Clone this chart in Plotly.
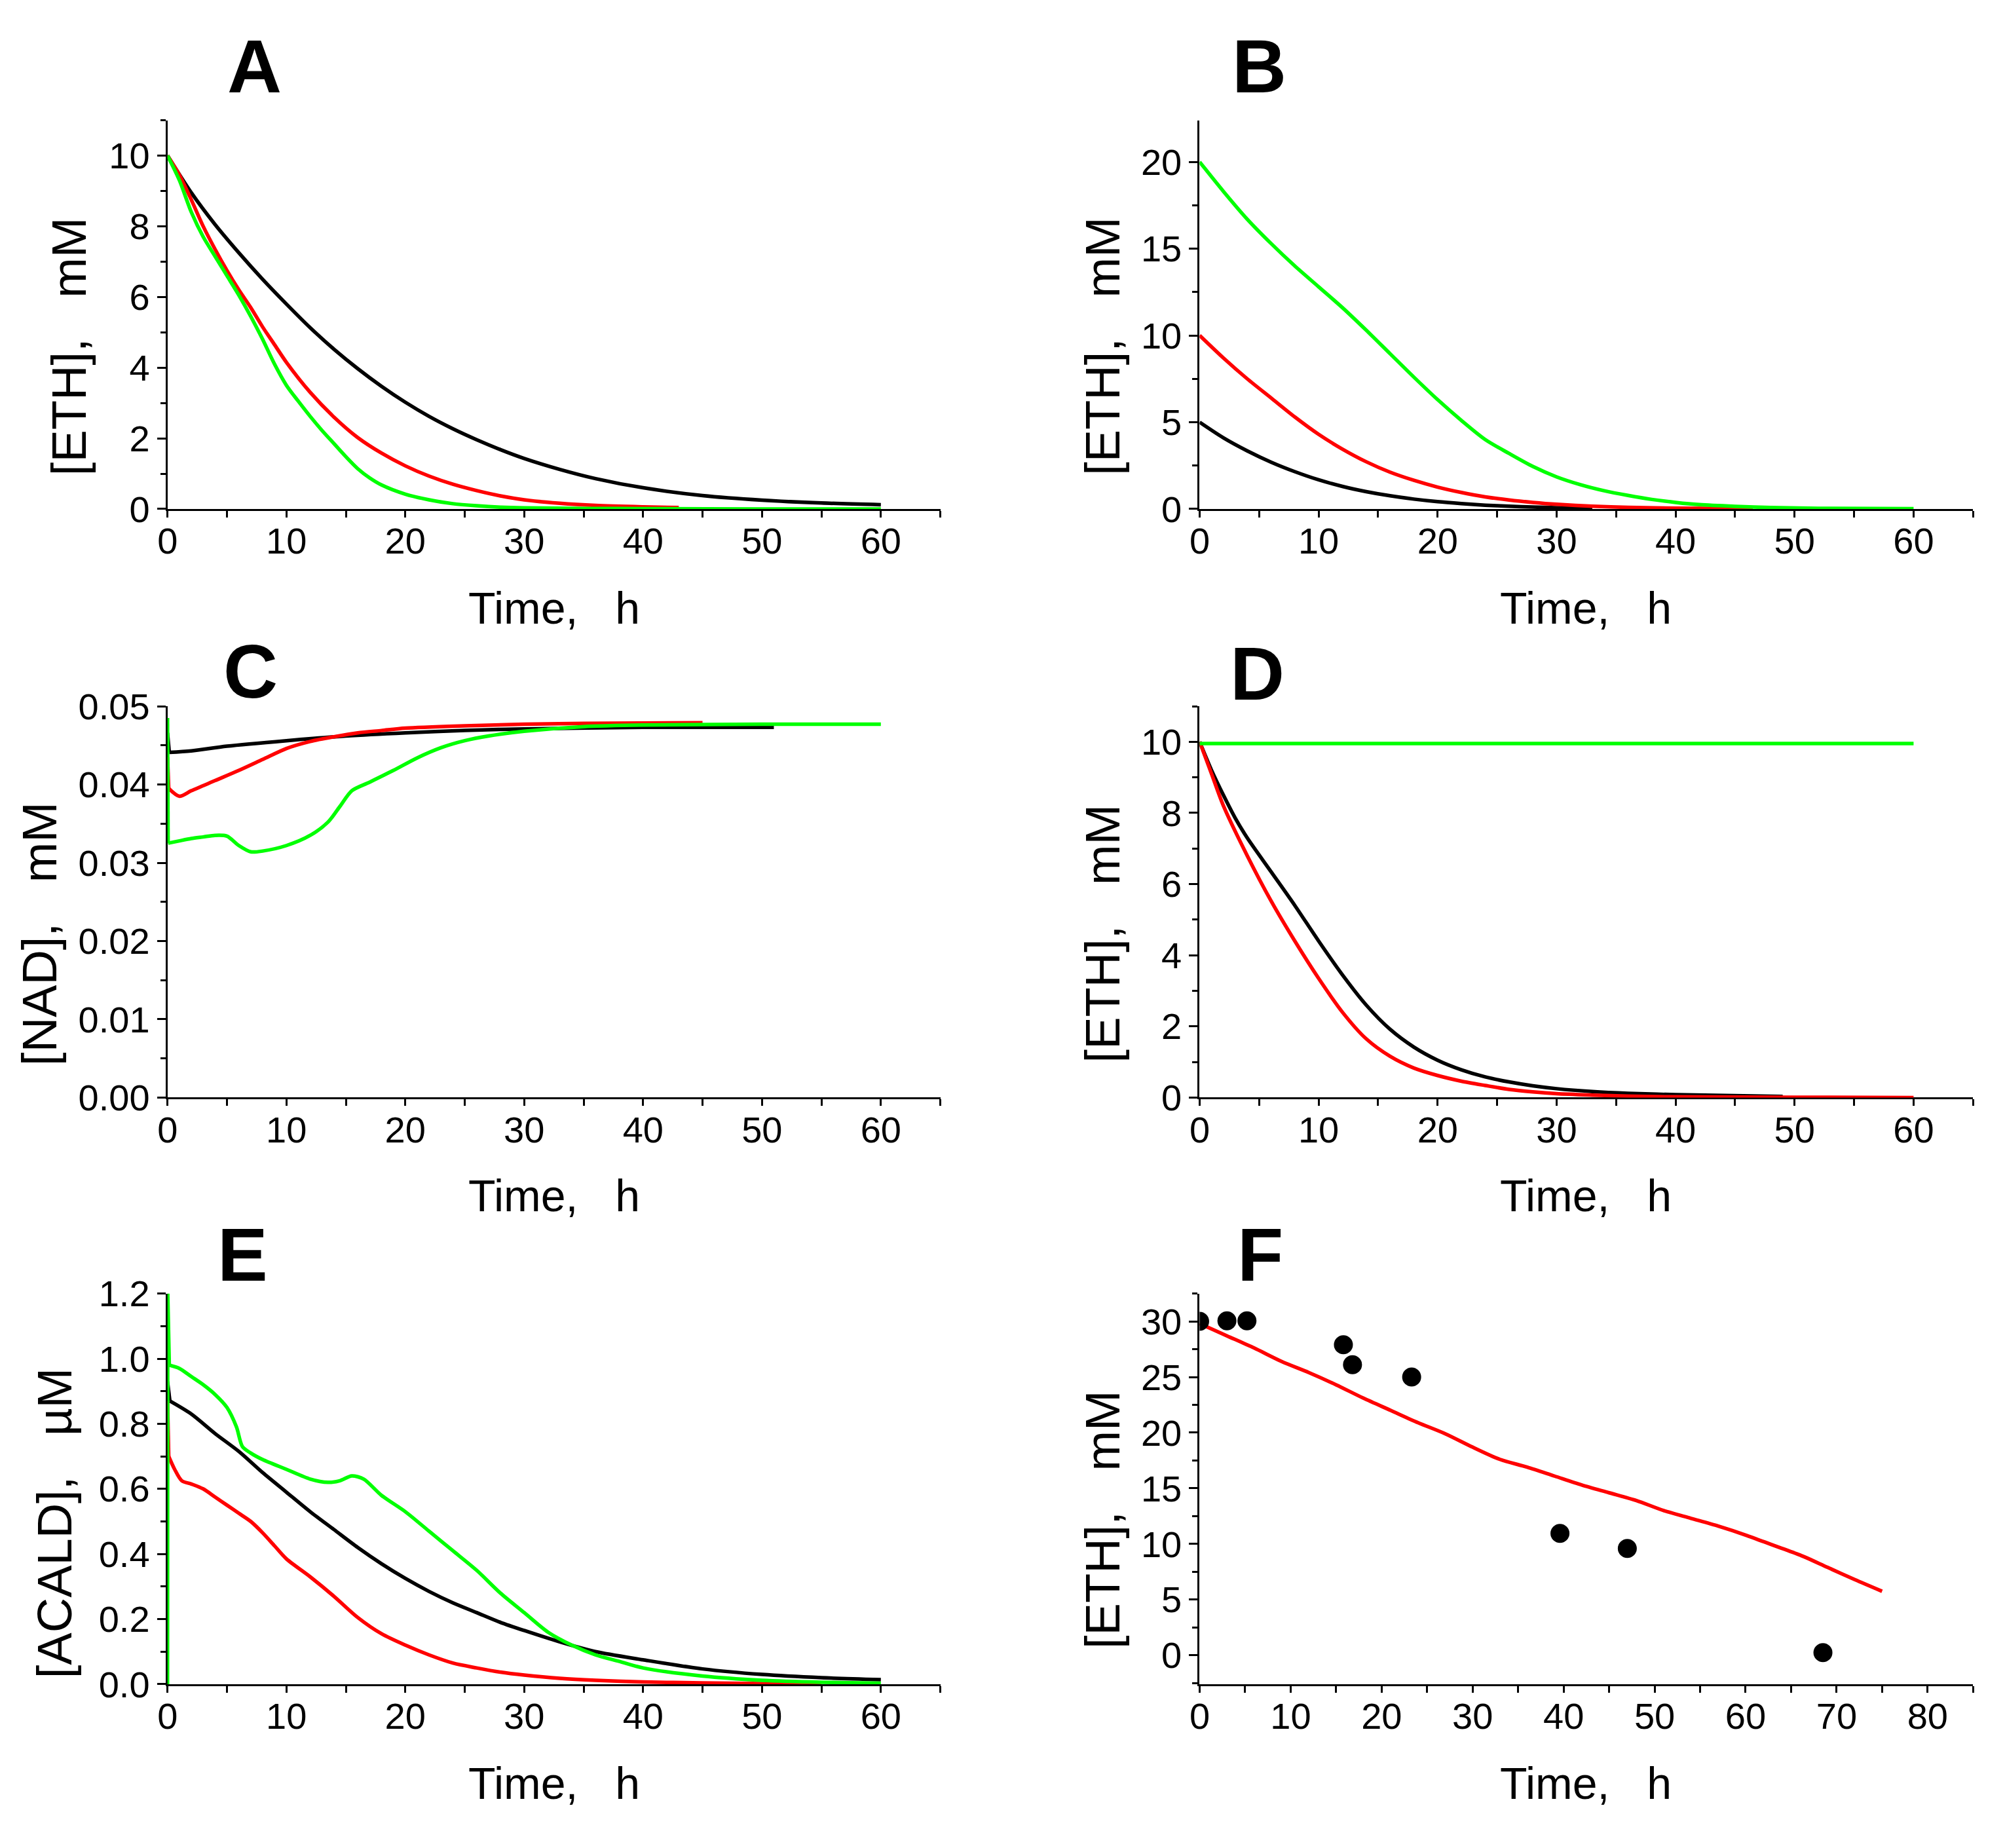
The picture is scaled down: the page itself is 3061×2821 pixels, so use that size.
import plotly.graph_objects as go

W, H = 3061, 2821

# ---------------- Panel A : [ETH], mM ----------------
tA_black = [0, 2, 4, 6, 8, 10, 12, 14, 16, 18, 20, 22, 24, 26, 28, 30, 33, 36, 40, 45, 50, 55, 60]
A_black = [10.0, 8.95, 8.05, 7.25, 6.5, 5.8, 5.13, 4.52, 3.97, 3.47, 3.02, 2.62, 2.27, 1.96, 1.68, 1.43, 1.12, 0.86, 0.6, 0.38, 0.25, 0.17, 0.12]
tA_red = [0, 1, 2, 3, 4, 5, 6, 7, 8, 9, 10, 12, 14, 16, 18, 20, 22, 24, 26, 28, 30, 33, 36, 40, 43]
A_red = [10.0, 9.45, 8.75, 8.0, 7.35, 6.75, 6.2, 5.7, 5.15, 4.65, 4.15, 3.3, 2.6, 2.02, 1.58, 1.22, 0.93, 0.7, 0.52, 0.37, 0.26, 0.16, 0.1, 0.06, 0.04]
tA_green = [0, 1, 2, 3, 4, 5, 6, 7, 8, 9, 10, 11, 12, 13, 14, 15, 16, 17, 18, 20, 22, 24, 26, 28, 30, 35, 40, 50, 60]
A_green = [10.0, 9.3, 8.4, 7.7, 7.15, 6.6, 6.05, 5.45, 4.8, 4.1, 3.5, 3.05, 2.62, 2.22, 1.85, 1.48, 1.14, 0.88, 0.68, 0.42, 0.26, 0.15, 0.09, 0.05, 0.03, 0.015, 0.01, 0.0, 0.0]

# ---------------- Panel B : [ETH], mM ----------------
tB_black = [0, 2, 4, 6, 8, 10, 12, 14, 16, 18, 20, 22, 24, 26, 28, 30, 33]
B_black = [5.0, 4.1, 3.35, 2.7, 2.15, 1.68, 1.3, 1.0, 0.76, 0.57, 0.42, 0.31, 0.22, 0.16, 0.11, 0.075, 0.045]
tB_red = [0, 2, 4, 6, 8, 10, 12, 14, 16, 18, 20, 22, 24, 26, 28, 30, 33, 36, 40, 46.5]
B_red = [10.0, 8.7, 7.5, 6.4, 5.3, 4.3, 3.45, 2.72, 2.12, 1.65, 1.26, 0.95, 0.7, 0.52, 0.38, 0.27, 0.16, 0.09, 0.05, 0.02]
tB_green = [0, 2, 4, 6, 8, 10, 12, 14, 16, 18, 20, 22, 24, 26, 28, 30, 32, 34, 36, 38, 40, 42, 45, 48, 52, 60]
B_green = [20.0, 18.3, 16.7, 15.3, 14.0, 12.8, 11.6, 10.3, 8.95, 7.6, 6.3, 5.1, 4.0, 3.2, 2.45, 1.85, 1.4, 1.05, 0.78, 0.55, 0.38, 0.25, 0.15, 0.08, 0.04, 0.02]

# ---------------- Panel C : [NAD], mM ----------------
tC_black = [0, 0.15, 2, 5, 10, 15, 20, 25, 30, 40, 51]
C_black = [0.0466, 0.0441, 0.0443, 0.0449, 0.0456, 0.0462, 0.0466, 0.0469, 0.0471, 0.0473, 0.0473]
tC_red = [0, 0.1, 1, 2, 4, 6, 8, 10, 12, 14, 16, 18, 20, 25, 30, 35, 45]
C_red = [0.0435, 0.0395, 0.0385, 0.0392, 0.0405, 0.0418, 0.0432, 0.0446, 0.0455, 0.0461, 0.0466, 0.0469, 0.0472, 0.0475, 0.0477, 0.0478, 0.0479]
tC_green = [0, 0.05, 1, 2, 3, 4, 5, 6, 7, 8, 10, 12, 13.5, 14.5, 15.5, 17, 19, 21, 23, 25, 27, 30, 35, 40, 50, 60]
C_green = [0.0485, 0.0325, 0.0328, 0.0331, 0.0333, 0.0335, 0.0334, 0.0322, 0.0314, 0.0315, 0.0322, 0.0335, 0.0352, 0.0372, 0.0392, 0.0403, 0.0418, 0.0434, 0.0447, 0.0456, 0.0462, 0.0468, 0.0474, 0.0476, 0.0477, 0.0477]

# ---------------- Panel D : [ETH], mM ----------------
tD_black = [0, 1, 2, 3, 4, 6, 8, 10, 12, 14, 16, 18, 20, 22, 24, 26, 28, 30, 33, 36, 40, 49]
D_black = [10.0, 9.2, 8.5, 7.85, 7.3, 6.35, 5.4, 4.4, 3.45, 2.6, 1.92, 1.42, 1.05, 0.78, 0.58, 0.44, 0.33, 0.25, 0.17, 0.12, 0.08, 0.03]
tD_red = [0, 1, 2, 4, 6, 8, 10, 12, 14, 16, 18, 20, 22, 24, 26, 28, 30, 33, 36, 40, 50, 60]
D_red = [10.0, 9.1, 8.2, 6.8, 5.53, 4.4, 3.35, 2.4, 1.65, 1.16, 0.83, 0.62, 0.46, 0.34, 0.23, 0.16, 0.11, 0.07, 0.04, 0.02, 0.01, 0.0]
tD_green = [0, 60]
D_green = [9.95, 9.95]

# ---------------- Panel E : [ACALD], uM ----------------
tE_black = [0, 0.2, 2, 4, 6, 8, 10, 12, 14, 16, 18, 20, 22, 24, 26, 28, 30, 33, 36, 40, 45, 50, 55, 60]
E_black = [0.93, 0.87, 0.83, 0.77, 0.715, 0.65, 0.59, 0.53, 0.475, 0.42, 0.37, 0.325, 0.285, 0.25, 0.22, 0.19, 0.165, 0.13, 0.1, 0.075, 0.047, 0.03, 0.02, 0.014]
tE_red = [0, 0.1, 0.6, 1.2, 2, 3, 4, 5, 6, 7, 8, 9, 10, 12, 14, 16, 18, 20, 22, 24, 26, 28, 30, 33, 36, 40, 45, 50, 55]
E_red = [0.87, 0.7, 0.66, 0.625, 0.615, 0.6, 0.575, 0.55, 0.525, 0.5, 0.465, 0.425, 0.385, 0.33, 0.27, 0.205, 0.155, 0.12, 0.09, 0.065, 0.05, 0.037, 0.028, 0.018, 0.012, 0.007, 0.004, 0.002, 0.001]
tE_green = [0, 0.02, 0.15, 1, 2, 3, 4, 5, 5.8, 6.3, 7, 8, 10, 12, 13.5, 14.5, 15.5, 16.5, 18, 20, 22, 24, 26, 28, 30, 32, 34, 36, 38, 40, 45, 50, 55, 60]
E_green = [0.0, 1.2, 0.98, 0.97, 0.945, 0.92, 0.89, 0.85, 0.79, 0.73, 0.71, 0.69, 0.66, 0.63, 0.62, 0.625, 0.64, 0.63, 0.58, 0.53, 0.47, 0.41, 0.35, 0.28, 0.22, 0.16, 0.12, 0.09, 0.07, 0.05, 0.025, 0.012, 0.006, 0.003]

# ---------------- Panel F : [ETH], mM (model + data) ----------------
tF_model = [0, 3, 6, 9, 12, 15, 18, 21, 24, 27, 30, 33, 36, 39, 42, 45, 48, 51, 54, 57, 60, 63, 66, 69, 72, 75]
F_model = [29.8, 28.7, 27.6, 26.4, 25.4, 24.3, 23.1, 22.0, 20.9, 19.9, 18.7, 17.6, 16.9, 16.1, 15.3, 14.6, 13.9, 13.0, 12.3, 11.6, 10.8, 9.9, 9.0, 7.9, 6.8, 5.75]
tF_data = [0.0, 3.0, 5.2, 15.8, 16.8, 23.3, 39.6, 47.0, 68.5]
F_data = [30.0, 30.05, 30.05, 27.9, 26.1, 25.0, 10.95, 9.6, 0.24]

# ---------------- text ----------------
panel_letters = ["A", "B", "C", "D", "E", "F"]
y_titles = ["[ETH],\u00a0\u00a0\u00a0mM", "[ETH],\u00a0\u00a0\u00a0mM", "[NAD],\u00a0\u00a0\u00a0mM",
            "[ETH],\u00a0\u00a0\u00a0mM", "[ACALD],\u00a0\u00a0\u00a0\u00b5M", "[ETH],\u00a0\u00a0\u00a0mM"]
x_title = "Time,\u00a0\u00a0\u00a0h"

BLACK, RED, GREEN = "#000000", "#ff0000", "#00ff00"
LW = 5.5

fig = go.Figure()

def line(ax, x, y, color, nspike=0):
    """Draw a curve; the first `nspike` segments (initial jump at t=0) are drawn straight."""
    common = dict(mode="lines", xaxis="x" + ax, yaxis="y" + ax, showlegend=False, hoverinfo="skip")
    if nspike:
        fig.add_trace(go.Scatter(x=x[:nspike + 1], y=y[:nspike + 1],
                                 line=dict(color=color, width=LW, shape="linear"), **common))
    fig.add_trace(go.Scatter(x=x[nspike:], y=y[nspike:],
                             line=dict(color=color, width=LW, shape="spline", smoothing=0.8), **common))

line("", tA_black, A_black, BLACK); line("", tA_red, A_red, RED); line("", tA_green, A_green, GREEN)
line("2", tB_black, B_black, BLACK); line("2", tB_red, B_red, RED); line("2", tB_green, B_green, GREEN)
line("3", tC_black, C_black, BLACK, 1); line("3", tC_red, C_red, RED, 1); line("3", tC_green, C_green, GREEN, 1)
line("4", tD_black, D_black, BLACK); line("4", tD_red, D_red, RED); line("4", tD_green, D_green, GREEN)
line("5", tE_black, E_black, BLACK, 1); line("5", tE_red, E_red, RED, 1); line("5", tE_green, E_green, GREEN, 2)
line("6", tF_model, F_model, RED)
fig.add_trace(go.Scatter(x=tF_data, y=F_data, mode="markers", marker=dict(color=BLACK, size=29),
                         xaxis="x6", yaxis="y6", showlegend=False, hoverinfo="skip", cliponaxis=True))

# layout geometry (pixels)
xl = [241 / W, 1427 / W]
xr = [1825 / W, 3012 / W]
rows = [(156, 763), (1071, 1682), (1988, 2598)]
def yd(r):
    return [1 - rows[r][1] / H, 1 - rows[r][0] / H]

TICKFONT = dict(family="Liberation Sans Narrow, Arial Narrow, Liberation Sans, Arial", size=56, color="black")

def xaxis(dom, anchor, rng):
    return dict(domain=dom, anchor=anchor, range=rng, tick0=0, dtick=10, ticks="outside", ticklen=10,
                tickwidth=2.5, tickcolor="black", showline=True, linewidth=3, linecolor="black",
                showgrid=False, zeroline=False, tickfont=TICKFONT, layer="below traces",
                ticklabelstandoff=-12,
                minor=dict(dtick=5, tick0=0, ticks="outside", ticklen=10, tickwidth=2.5, tickcolor="black", showgrid=False))

def yaxis(dom, anchor, rng, dt, mdt, fmt=None):
    d = dict(domain=dom, anchor=anchor, range=rng, tick0=0, dtick=dt, ticks="outside", ticklen=13,
             tickwidth=2.5, tickcolor="black", showline=True, linewidth=3, linecolor="black",
             showgrid=False, zeroline=False, tickfont=TICKFONT, layer="below traces",
             minor=dict(dtick=mdt, tick0=0, ticks="outside", ticklen=8, tickwidth=2.5, tickcolor="black", showgrid=False))
    if fmt:
        d["tickformat"] = fmt
    return d

fig.update_layout(
    width=W, height=H, margin=dict(l=0, r=0, t=0, b=0),
    paper_bgcolor="white", plot_bgcolor="white", showlegend=False,
    xaxis=xaxis(xl, "y", [0, 65]), yaxis=yaxis(yd(0), "x", [0, 11], 2, 1),
    xaxis2=xaxis(xr, "y2", [0, 65]), yaxis2=yaxis(yd(0), "x2", [0, 22.4], 5, 2.5),
    xaxis3=xaxis(xl, "y3", [0, 65]), yaxis3=yaxis(yd(1), "x3", [0, 0.05], 0.01, 0.005, ".2f"),
    xaxis4=xaxis(xr, "y4", [0, 65]), yaxis4=yaxis(yd(1), "x4", [0, 11], 2, 1),
    xaxis5=xaxis(xl, "y5", [0, 65]), yaxis5=yaxis(yd(2), "x5", [0, 1.2], 0.2, 0.1, ".1f"),
    xaxis6=xaxis(xr, "y6", [0, 85]), yaxis6=yaxis(yd(2), "x6", [-2.6, 32.5], 5, 2.5),
)

ann = []
letter_pos = [(374, 72), (1917, 72), (368, 1017), (1913, 1020), (356, 1927), (1918, 1927)]
for L, (px, py) in zip(panel_letters, letter_pos):
    ann.append(dict(text="<b>%s</b>" % L, x=px / W, y=1 - py / H, xref="paper", yref="paper",
                    xanchor="center", yanchor="middle", showarrow=False,
                    font=dict(family="Liberation Sans, Arial", size=115, color="black")))
xt_pos = [(834, 918), (2418, 918), (834, 1835), (2418, 1835), (834, 2752), (2418, 2752)]
for (px, py) in xt_pos:
    ann.append(dict(text=x_title, x=px / W, y=1 - py / H, xref="paper", yref="paper",
                    xanchor="center", yanchor="middle", showarrow=False,
                    font=dict(family="Liberation Sans, Arial", size=68, color="black")))
yt_pos = [(90, 509), (1676, 509), (44, 1426), (1676, 1426), (68, 2347), (1676, 2341)]
for t, (px, py) in zip(y_titles, yt_pos):
    ann.append(dict(text=t, x=px / W, y=1 - py / H, xref="paper", yref="paper", textangle=-90,
                    xanchor="center", yanchor="middle", showarrow=False,
                    font=dict(family="Liberation Sans, Arial", size=74, color="black")))
fig.update_layout(annotations=ann)

fig.write_html("out.html", config={"displayModeBar": False},
               post_script="document.body.style.margin='0';")
